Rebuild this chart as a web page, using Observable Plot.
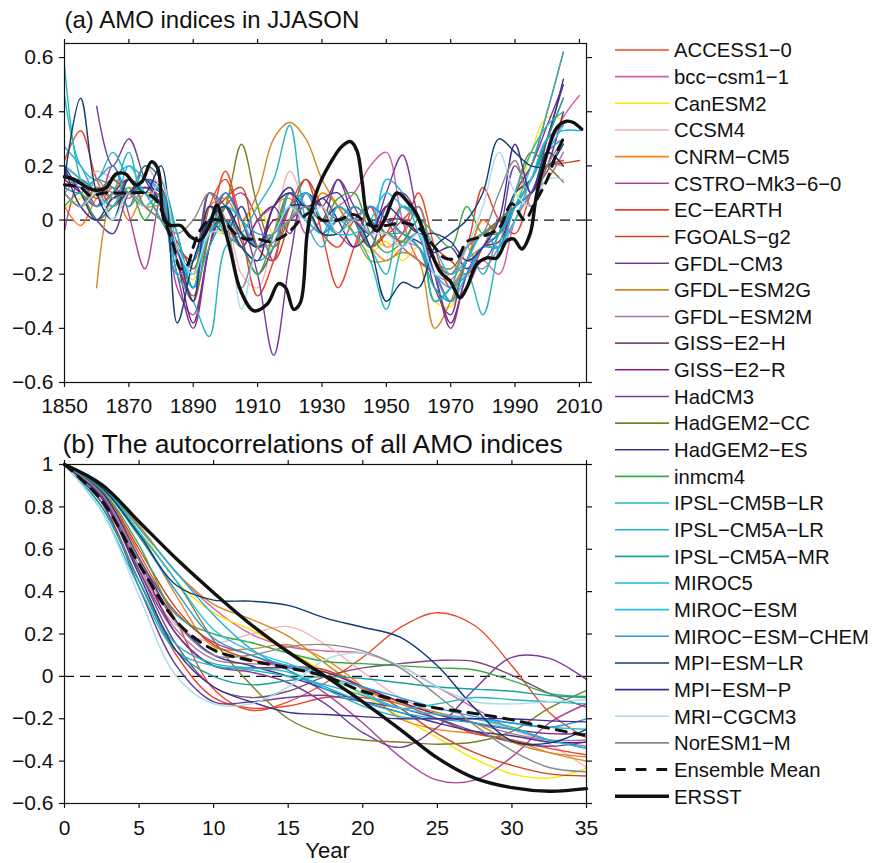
<!DOCTYPE html>
<html><head><meta charset="utf-8">
<script src="https://cdn.jsdelivr.net/npm/d3@7"></script>
<script src="https://cdn.jsdelivr.net/npm/@observablehq/plot@0.6"></script>
<style>
body{margin:0;background:#fff;font-family:"Liberation Sans",Arial,sans-serif;}
#wrap{position:relative;width:872px;height:863px;overflow:hidden;}
#wrap svg{position:absolute;}
</style></head><body><div id="wrap"></div>
<script>
const modelNames = ["ACCESS1−0","bcc−csm1−1","CanESM2","CCSM4","CNRM−CM5","CSTRO−Mk3−6−0","EC−EARTH","FGOALS−g2","GFDL−CM3","GFDL−ESM2G","GFDL−ESM2M","GISS−E2−H","GISS−E2−R","HadCM3","HadGEM2−CC","HadGEM2−ES","inmcm4","IPSL−CM5B−LR","IPSL−CM5A−LR","IPSL−CM5A−MR","MIROC5","MIROC−ESM","MIROC−ESM−CHEM","MPI−ESM−LR","MPI−ESM−P","MRI−CGCM3","NorESM1−M"];
const modelColors = ["#eb4b2a","#d65fa8","#ffe500","#f7b4b8","#f5821f","#a94498","#e8402a","#c8461f","#6b3e98","#cf8a24","#a67b9f","#7b4d72","#8a1b78","#7a3a98","#7f7c24","#3e3190","#3bab4a","#27b6bb","#1fb8bd","#17a29e","#1bb3de","#27c0e6","#2d97d5","#0c3c70","#3d2c8e","#a9dcee","#8a8a8a"];

// Panel (a): AMO indices, sampled every 5 years 1850..2010
const amoYears = [1850,1855,1860,1865,1870,1875,1880,1885,1890,1895,1900,1905,1910,1915,1920,1925,1930,1935,1940,1945,1950,1955,1960,1965,1970,1975,1980,1985,1990,1995,2000,2005,2010];
const amoModels = [
 [0.22,0.33,0.15,0.05,0.10,0.12, 0.08,-0.15,-0.28,-0.05,0.18,0.00, -0.10,-0.05,0.10,0.05,-0.05,-0.10, 0.00,0.05,-0.10,-0.05,0.10,-0.10, -0.25,-0.15,0.00,-0.05,0.10,0.20, 0.40,0.62,null],
 [0.10,0.15,0.05,0.12,0.08,0.15, 0.10,-0.10,-0.20,0.00,0.05,-0.10, 0.00,0.05,0.10,-0.05,0.00,0.05, 0.10,0.20,0.25,0.00,-0.15,-0.20, -0.30,-0.25,-0.15,-0.20,0.00,0.10, 0.25,0.38,0.46],
 [0.04,0.08,0.10,0.05,0.12,0.10, 0.05,-0.15,-0.22,-0.05,-0.05,-0.02, 0.05,-0.05,0.05,0.00,0.10,0.05, -0.05,-0.12,-0.08,-0.15,-0.10,-0.30, -0.32,-0.15,-0.10,-0.08,0.05,0.25, 0.38,0.37,null],
 [0.15,0.12,0.18,0.15,0.10,0.20, 0.10,-0.10,-0.15,-0.05,0.00,-0.20, -0.25,-0.05,0.18,0.05,-0.05,0.00, 0.00,-0.05,-0.10,-0.08,-0.05,-0.20, -0.20,-0.10,-0.05,-0.10,0.05,0.15, 0.30,0.28,null],
 [0.05,-0.02,0.08,0.12,0.00,0.10, 0.08,-0.10,-0.20,-0.05,0.05,-0.05, -0.10,0.05,0.08,0.00,0.10,0.05, -0.05,-0.10,-0.15,-0.10,-0.05,-0.30, -0.25,-0.15,0.00,-0.05,0.05,0.10, 0.20,0.20,null],
 [-0.04,0.15,0.05,0.20,0.02,-0.18, 0.08,-0.25,-0.35,-0.10,0.05,0.10, 0.00,-0.15,0.10,0.05,0.00,-0.05, -0.10,0.05,0.00,-0.10,-0.15,-0.20, -0.30,-0.15,-0.05,-0.10,0.10,0.15, 0.30,0.35,null],
 [0.20,0.15,0.08,0.15,0.10,0.20, 0.15,-0.10,-0.25,0.05,0.15,-0.05, -0.28,-0.15,0.05,0.15,-0.05,-0.25, -0.10,0.05,-0.05,0.00,0.05,-0.15, -0.20,-0.10,0.12,0.00,-0.05,0.10, 0.20,0.22,null],
 [0.10,0.05,0.12,0.08,0.15,0.05, 0.00,-0.08,-0.18,0.00,0.08,0.12, -0.10,-0.15,0.00,0.15,0.05,-0.05, 0.00,-0.10,-0.05,0.05,0.00,-0.10, -0.15,-0.20,-0.10,0.00,0.05,0.10, 0.20,0.21,0.22],
 [0.18,0.10,0.00,-0.05,0.10,0.15, 0.12,-0.15,-0.30,0.10,0.00,-0.10, 0.00,0.05,-0.05,0.10,0.00,0.15, 0.00,-0.10,0.05,0.10,0.00,-0.25, -0.35,-0.15,-0.15,-0.05,0.20,0.10, 0.30,0.50,null],
 [null,null,-0.25,0.10,0.15,0.05, 0.05,-0.10,-0.20,0.05,0.08,0.00, 0.10,0.30,0.36,0.30,0.15,0.05, -0.05,-0.15,-0.15,-0.12,-0.15,-0.40, -0.30,-0.15,-0.10,-0.05,0.10,0.15, 0.30,0.45,null],
 [0.10,0.05,0.12,0.10,0.05,0.12, 0.05,-0.12,-0.20,0.00,-0.05,-0.05, -0.10,-0.08,0.05,0.00,-0.05,0.00, 0.05,0.00,-0.05,-0.08,-0.10,-0.20, -0.22,-0.15,-0.18,-0.10,0.00,0.10, 0.15,0.25,null],
 [0.12,0.15,0.10,0.05,0.15,0.10, 0.00,-0.10,-0.15,0.10,0.05,-0.08, -0.20,-0.10,0.05,0.10,0.05,0.00, 0.00,-0.05,0.00,0.00,-0.05,-0.15, -0.20,-0.10,-0.05,0.00,0.05,0.10, 0.18,0.30,null],
 [0.15,0.10,0.05,0.10,0.15,0.10, 0.05,-0.15,-0.38,-0.10,0.05,-0.05, -0.10,0.00,0.00,0.05,0.00,0.05, 0.00,-0.05,0.00,0.00,-0.05,-0.20, -0.38,-0.20,-0.10,-0.08,0.05,0.10, 0.20,0.40,null],
 [null,null,0.42,0.20,0.30,0.15, 0.05,-0.20,-0.40,-0.10,0.10,0.00, -0.20,-0.50,-0.15,0.10,0.05,0.15, 0.05,-0.05,0.10,0.24,0.00,-0.20, -0.40,-0.20,-0.10,-0.10,0.10,0.20, 0.35,0.50,null],
 [0.10,0.05,0.10,0.15,0.10,0.05, 0.10,-0.10,-0.30,-0.05,0.05,0.28, 0.05,-0.10,0.00,0.05,-0.05,-0.05, 0.00,-0.10,-0.05,-0.08,0.00,-0.15, -0.18,-0.10,-0.05,-0.05,0.10,0.25, 0.20,0.14,null],
 [0.20,0.10,0.00,0.05,0.10,0.12, 0.10,-0.10,-0.25,0.00,-0.05,0.05, -0.10,0.05,0.12,0.00,0.08,0.00, -0.10,-0.05,0.00,-0.05,-0.08,-0.12, -0.10,-0.18,-0.10,-0.05,0.10,0.15, 0.30,0.52,null],
 [0.05,0.10,0.00,0.05,0.12,0.00, 0.10,-0.10,-0.20,0.05,-0.05,-0.10, -0.20,-0.05,0.10,0.05,0.00,0.08, 0.10,-0.05,-0.12,-0.08,0.00,-0.05, -0.10,0.05,-0.05,0.00,0.05,0.15, 0.25,0.20,null],
 [0.57,0.15,0.05,0.10,0.25,0.05, 0.10,-0.20,-0.30,-0.43,-0.10,-0.05, 0.05,0.15,0.35,0.00,-0.10,0.05, 0.00,-0.10,-0.20,0.05,0.00,-0.30, -0.25,-0.20,-0.35,-0.10,0.10,0.25, 0.35,0.40,null],
 [0.46,0.20,0.15,0.25,0.15,0.10, 0.00,-0.10,-0.25,-0.10,0.00,-0.10, -0.15,-0.10,0.10,0.05,-0.05,0.00, -0.05,-0.15,-0.33,-0.10,-0.05,-0.30, -0.25,-0.10,-0.20,-0.05,0.05,0.20, 0.40,0.62,null],
 [0.12,0.10,0.15,0.12,0.05,0.20, 0.15,-0.05,-0.25,-0.05,0.00,-0.05, -0.10,-0.05,0.05,0.10,0.00,-0.05, 0.05,0.00,-0.05,-0.05,-0.10,-0.25, -0.30,-0.15,-0.05,-0.05,0.05,0.15, 0.30,0.45,null],
 [0.27,0.20,0.10,0.15,0.20,0.15, 0.10,-0.05,-0.25,0.00,0.05,-0.05, -0.10,-0.05,0.05,0.00,-0.05,0.05, 0.00,-0.05,0.15,0.10,-0.05,-0.20, -0.30,-0.20,-0.10,-0.10,0.05,0.15, 0.30,0.33,0.33],
 [0.20,0.15,0.10,0.05,0.20,0.10, 0.05,-0.15,-0.20,-0.05,0.05,0.00, -0.10,-0.05,0.00,0.10,0.00,-0.05, -0.05,0.00,0.10,0.05,0.00,-0.10, -0.20,-0.15,-0.05,-0.10,0.00,0.15, 0.25,0.35,null],
 [0.18,0.12,0.15,0.20,0.10,0.15, 0.10,-0.20,-0.15,0.00,0.10,0.00, -0.05,-0.05,0.05,0.05,-0.05,0.00, 0.00,0.05,0.00,-0.05,-0.10,-0.20, -0.25,-0.20,-0.10,-0.05,0.05,0.10, 0.25,0.30,null],
 [0.15,0.45,0.10,0.00,0.15,0.10, 0.20,-0.38,-0.15,0.00,0.05,-0.05, -0.10,-0.05,0.05,0.05,-0.05,-0.05, 0.00,-0.10,-0.30,-0.23,-0.25,-0.10, -0.05,0.00,0.10,0.30,0.25,0.20, 0.20,0.28,null],
 [0.20,0.05,0.00,0.08,0.10,0.15, 0.05,-0.10,-0.30,0.05,0.00,-0.10, -0.15,0.05,0.10,0.05,0.08,0.10, 0.00,-0.05,0.05,0.00,-0.05,-0.05, -0.08,-0.15,-0.10,0.00,0.28,0.10, 0.25,0.20,null],
 [0.10,0.05,0.10,0.00,0.10,0.05, 0.15,-0.10,-0.20,-0.05,-0.05,-0.33, -0.10,-0.05,0.05,0.00,0.05,-0.05, 0.00,-0.05,-0.05,-0.10,-0.05,-0.20, -0.20,-0.10,0.05,0.25,0.10,0.05, 0.15,0.15,null],
 [0.10,0.05,0.15,0.08,0.10,0.05, 0.00,-0.05,0.00,0.10,0.00,-0.25, -0.10,-0.05,0.00,0.05,0.00,0.00, 0.00,-0.05,0.00,-0.05,0.05,-0.15, -0.20,-0.10,-0.05,0.10,0.22,0.05, 0.20,0.30,null]
];
const meanYears = [1850,1855,1858,1862,1866,1870,1875,1878,1880,1882,1884,1886,1888,1890,1892,1895,1898,1900,1903,1906,1910,1914,1918,1921,1924,1927,1930,1935,1940,1945,1950,1955,1960,1965,1968,1972,1975,1980,1985,1989,1993,1996,2000,2003,2005];
const meanAMO = [0.13,0.12,0.09,0.10,0.10,0.10,0.10,0.08,0.04,-0.03,-0.10,-0.18,-0.17,-0.10,-0.04,0.0,0.0,-0.01,-0.05,-0.07,-0.07,-0.08,-0.06,-0.03,0.01,0.03,0.0,0.0,0.02,-0.02,-0.02,-0.01,-0.03,-0.10,-0.14,-0.14,-0.08,-0.06,-0.03,0.06,0.0,0.06,0.15,0.25,0.30];
const ersstYears = [1850,1853,1857,1860,1863,1866,1869,1872,1874,1877,1879,1881,1883,1886,1889,1892,1895,1897.4,1899,1901.6,1904.7,1908.8,1913,1916.5,1918.7,1921.2,1923.3,1925.4,1927,1929.5,1933.6,1936,1938.8,1940.9,1942.5,1944,1947.1,1949.7,1953.3,1956.4,1959.5,1962.6,1966.7,1969.8,1972.9,1975,1978.1,1981.2,1984.3,1987.4,1989.5,1992.1,1994.7,1996.7,1999.8,2002.9,2006,2008.1,2010.7];
const ersstAMO = [0.16,0.15,0.12,0.11,0.12,0.17,0.17,0.13,0.14,0.215,0.19,0.0,-0.02,-0.02,-0.06,-0.075,-0.02,0.055,0.0,-0.115,-0.26,-0.335,-0.31,-0.235,-0.25,-0.33,-0.305,-0.05,0.05,0.14,0.23,0.27,0.29,0.255,0.14,0.02,-0.04,0.008,0.1,0.07,0.02,-0.077,-0.19,-0.225,-0.287,-0.25,-0.163,-0.14,-0.14,-0.077,-0.07,-0.107,-0.05,0.095,0.24,0.34,0.365,0.36,0.335];

// Panel (b): autocorrelations
const lags = [0,2.5,5,7.5,10,12.5,15,17.5,20,22.5,25,27.5,30,32.5,35];
const acfModels = [
 [1,0.87,0.58,0.26,-0.06,-0.16,-0.12,-0.03,0.09,0.23,0.30,0.24,0.05,-0.17,-0.29],
 [1,0.90,0.71,0.49,0.32,0.20,0.14,0.12,0.11,0.05,-0.05,-0.15,-0.25,-0.30,-0.33],
 [1,0.90,0.70,0.45,0.30,0.22,0.12,0.02,-0.09,-0.19,-0.29,-0.39,-0.46,-0.48,-0.435],
 [1,0.84,0.50,0.24,0.16,0.20,0.235,0.15,0.02,-0.10,-0.17,-0.20,-0.25,-0.32,-0.43],
 [1,0.89,0.68,0.38,0.14,0.13,0.15,0.08,-0.05,-0.20,-0.25,-0.27,-0.30,-0.36,-0.40],
 [1,0.85,0.55,0.30,0.16,0.10,0.03,-0.08,-0.22,-0.38,-0.49,-0.49,-0.38,-0.22,-0.13],
 [1,0.82,0.45,0.10,-0.10,-0.15,-0.14,-0.10,-0.10,-0.13,-0.20,-0.27,-0.30,-0.34,-0.37],
 [1,0.88,0.60,0.32,0.15,0.08,0.05,0.03,-0.05,-0.15,-0.27,-0.36,-0.42,-0.46,-0.47],
 [1,0.82,0.42,0.05,-0.12,-0.12,-0.10,-0.09,-0.12,-0.15,-0.20,-0.26,-0.31,-0.33,-0.31],
 [1,0.90,0.71,0.49,0.34,0.27,0.19,0.06,-0.06,-0.13,-0.17,-0.22,-0.31,-0.36,-0.38],
 [1,0.86,0.52,0.22,0.08,0.06,0.05,0.02,-0.05,-0.12,-0.18,-0.22,-0.27,-0.30,-0.30],
 [1,0.85,0.50,0.15,-0.05,-0.10,-0.07,0.00,0.04,0.06,0.075,0.07,0.005,-0.08,-0.145],
 [1,0.87,0.55,0.20,0.05,0.04,0.04,0.02,-0.05,-0.12,-0.18,-0.22,-0.25,-0.27,-0.27],
 [1,0.85,0.50,0.20,0.05,0.02,-0.03,-0.13,-0.265,-0.335,-0.24,-0.06,0.09,0.085,-0.015],
 [1,0.90,0.68,0.45,0.17,-0.04,-0.20,-0.275,-0.30,-0.31,-0.32,-0.31,-0.26,-0.15,-0.067],
 [1,0.87,0.56,0.26,0.10,0.05,0.00,-0.06,-0.12,-0.17,-0.22,-0.26,-0.28,-0.31,-0.31],
 [1,0.88,0.62,0.29,0.20,0.16,0.11,0.07,0.06,0.05,0.04,0.03,-0.02,-0.08,-0.095],
 [1,0.78,0.42,0.12,0.05,0.03,0.00,-0.04,-0.09,-0.15,-0.13,-0.10,-0.11,-0.12,-0.13],
 [1,0.80,0.45,0.15,0.06,0.04,0.02,-0.06,-0.14,-0.19,-0.20,-0.20,-0.24,-0.30,-0.34],
 [1,0.80,0.45,0.12,0.00,-0.04,-0.02,0.00,-0.01,-0.03,-0.05,-0.06,-0.07,-0.09,-0.10],
 [1,0.90,0.70,0.49,0.29,0.13,0.03,-0.05,-0.12,-0.17,-0.20,-0.22,-0.25,-0.30,-0.34],
 [1,0.89,0.68,0.45,0.22,0.12,0.06,0.00,-0.08,-0.15,-0.18,-0.20,-0.22,-0.24,-0.25],
 [1,0.89,0.66,0.40,0.18,0.10,0.05,0.00,-0.05,-0.10,-0.15,-0.19,-0.22,-0.24,-0.20],
 [1,0.89,0.67,0.43,0.36,0.355,0.335,0.275,0.232,0.185,0.05,-0.15,-0.305,-0.315,-0.25],
 [1,0.84,0.48,0.12,-0.05,-0.12,-0.17,-0.18,-0.19,-0.20,-0.20,-0.20,-0.20,-0.21,-0.215],
 [1,0.78,0.38,0.00,-0.13,-0.13,-0.05,0.08,0.11,0.05,-0.05,-0.12,-0.13,-0.12,-0.11],
 [1,0.86,0.55,0.25,0.10,0.10,0.14,0.15,0.12,0.04,-0.09,-0.23,-0.35,-0.43,-0.45]
];
const acfMean = [1,0.83,0.53,0.26,0.125,0.075,0.04,0.0,-0.07,-0.115,-0.15,-0.175,-0.205,-0.245,-0.28];
const acfERSST = [1,0.905,0.73,0.555,0.395,0.245,0.115,0.0,-0.12,-0.25,-0.385,-0.48,-0.525,-0.542,-0.53];

const yearTicks = [1850,1870,1890,1910,1930,1950,1970,1990,2010];
const amoTicks = [-0.6,-0.4,-0.2,0,0.2,0.4,0.6];
const lagTicks = [0,5,10,15,20,25,30,35];
const acfTicks = [-0.6,-0.4,-0.2,0,0.2,0.4,0.6,0.8,1];
const titleA = "(a) AMO indices in JJASON";
const titleB = "(b) The autocorrelations of all AMO indices";
const xLabelB = "Year";

// ---------- build ----------
const FONT = '"Liberation Sans", Arial, Helvetica, sans-serif';
const INK = "#111";
const fmt = d => d === 0 ? "0" : (d === 1 ? "1" : d3.format(".1f")(d));

const amoRows = [];
modelNames.forEach((m, i) => amoYears.forEach((yr, j) => {
  const v = amoModels[i][j];
  if (v != null) amoRows.push({model: m, x: yr, y: v});
}));
const meanRowsA = meanYears.map((x, i) => ({x, y: meanAMO[i]}));
const ersstRowsA = ersstYears.map((x, i) => ({x, y: ersstAMO[i]}));

const acfRows = [];
modelNames.forEach((m, i) => lags.forEach((l, j) => acfRows.push({model: m, x: l, y: acfModels[i][j]})));
const meanRowsB = lags.map((x, i) => ({x, y: acfMean[i]}));
const ersstRowsB = lags.map((x, i) => ({x, y: acfERSST[i]}));

function axes(xt, yt, xPad) {
  return [
    Plot.frame({stroke: INK, strokeWidth: 1.2}),
    Plot.axisX({ticks: xt, anchor: "bottom", tickSize: 5, tickPadding: xPad, tickFormat: d => String(d), fontSize: 21, label: null, stroke: INK, strokeWidth: 1.2}),
    Plot.axisX({ticks: xt, anchor: "top", tickSize: 5, tickFormat: () => "", label: null, stroke: INK, strokeWidth: 1.2}),
    Plot.axisY({ticks: yt, anchor: "left", tickSize: 5, tickPadding: 6, tickFormat: fmt, fontSize: 21, label: null, stroke: INK, strokeWidth: 1.2}),
    Plot.axisY({ticks: yt, anchor: "right", tickSize: 5, tickFormat: () => "", label: null, stroke: INK, strokeWidth: 1.2})
  ];
}

const panelA = Plot.plot({
  width: 600, height: 420,
  marginTop: 43, marginLeft: 64, marginRight: 14, marginBottom: 38,
  style: {fontFamily: FONT, fontSize: "21px", color: INK, background: "transparent", overflow: "visible"},
  x: {domain: [1850, 2012.2]},
  y: {domain: [-0.6, 0.652]},
  color: {domain: modelNames, range: modelColors},
  marks: [
    Plot.ruleY([0], {stroke: INK, strokeWidth: 1.3, strokeDasharray: "10,6"}),
    Plot.line(amoRows, {x: "x", y: "y", z: "model", stroke: "model", strokeWidth: 1.4, curve: "catmull-rom", clip: true}),
    Plot.line(meanRowsA, {x: "x", y: "y", stroke: INK, strokeWidth: 3, strokeDasharray: "10,8", curve: "catmull-rom"}),
    Plot.line(ersstRowsA, {x: "x", y: "y", stroke: INK, strokeWidth: 3.4, curve: "catmull-rom"}),
    ...axes(yearTicks, amoTicks, 11),
    Plot.text([titleA], {text: d => d, frameAnchor: "top-left", textAnchor: "start", lineAnchor: "bottom", dy: -16, dx: 0, fontSize: 24, fill: INK})
  ]
});
panelA.style.left = "0px"; panelA.style.top = "0px";

const panelB = Plot.plot({
  width: 600, height: 443,
  marginTop: 44, marginLeft: 64, marginRight: 14, marginBottom: 60,
  style: {fontFamily: FONT, fontSize: "21px", color: INK, background: "transparent", overflow: "visible"},
  x: {domain: [0, 35]},
  y: {domain: [-0.6, 1]},
  color: {domain: modelNames, range: modelColors},
  marks: [
    Plot.ruleY([0], {stroke: INK, strokeWidth: 1.3, strokeDasharray: "10,6"}),
    Plot.line(acfRows, {x: "x", y: "y", z: "model", stroke: "model", strokeWidth: 1.4, curve: "catmull-rom", clip: true}),
    Plot.line(meanRowsB, {x: "x", y: "y", stroke: INK, strokeWidth: 3, strokeDasharray: "10,8", curve: "catmull-rom"}),
    Plot.line(ersstRowsB, {x: "x", y: "y", stroke: INK, strokeWidth: 3.4, curve: "catmull-rom"}),
    ...axes(lagTicks, acfTicks, 12),
    Plot.text([titleB], {text: d => d, frameAnchor: "top-left", textAnchor: "start", lineAnchor: "bottom", dy: -12, dx: -2, fontSize: 26.5, fill: INK}),
    Plot.text([xLabelB], {text: d => d, frameAnchor: "bottom", lineAnchor: "bottom", dy: 54, dx: 2, fontSize: 22, fill: INK})
  ]
});
panelB.style.left = "0px"; panelB.style.top = "420px";

// legend
const entries = modelNames.map((n, i) => ({name: n, color: modelColors[i], w: 1.6, dash: null}))
  .concat([{name: "Ensemble Mean", color: INK, w: 3, dash: "10.7,10"}, {name: "ERSST", color: INK, w: 3.4, dash: null}]);
const leg = d3.create("svg").attr("width", 272).attr("height", 863)
  .style("left", "600px").style("top", "0px").style("font-family", FONT);
entries.forEach((e, i) => {
  const y = 50 + i * 26.65;
  leg.append("line").attr("x1", 15).attr("x2", 69).attr("y1", y).attr("y2", y)
    .attr("stroke", e.color).attr("stroke-width", e.w).attr("stroke-dasharray", e.dash);
  leg.append("text").attr("x", 74).attr("y", y).attr("dy", "0.36em")
    .attr("font-size", 20.3).attr("fill", INK).text(e.name);
});

const wrap = document.getElementById("wrap");
wrap.append(panelA, panelB, leg.node());
</script></body></html>
